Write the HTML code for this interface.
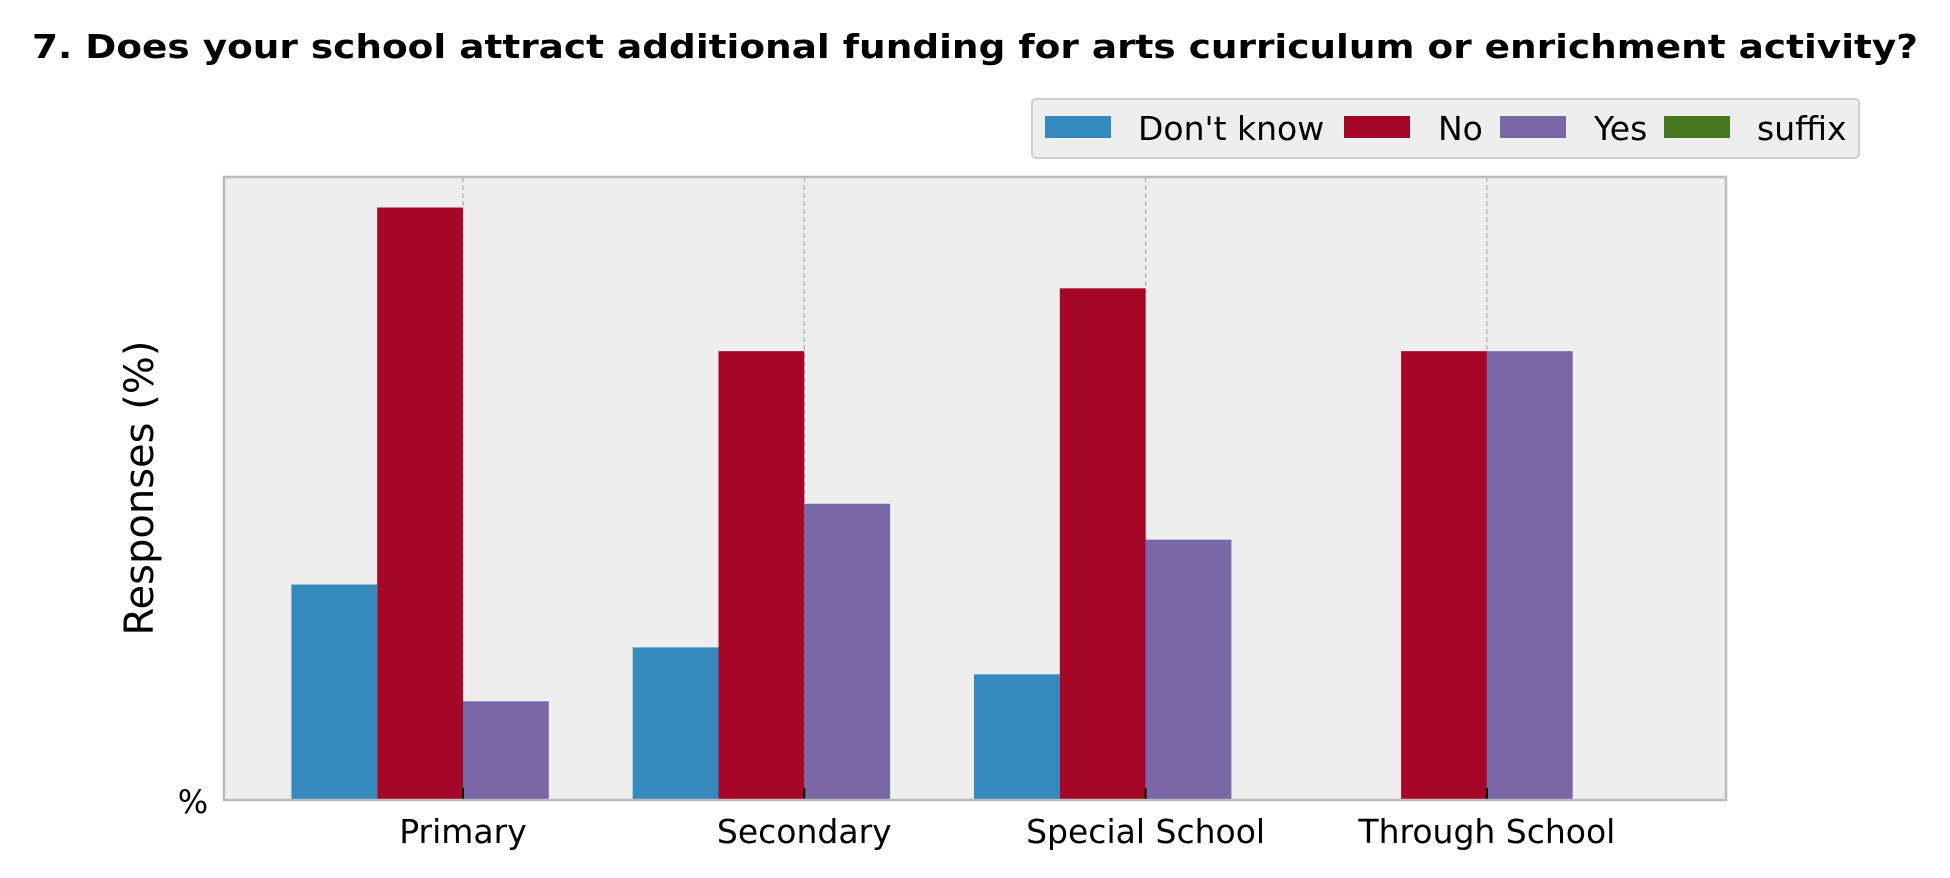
<!DOCTYPE html>
<html><head><meta charset="utf-8"><style>
html,body{margin:0;padding:0;background:#fff;}
svg{display:block;font-family:"DejaVu Sans","Liberation Sans",sans-serif;}
</style></head><body>
<svg id="chart" width="1950" height="878" viewBox="0 0 1950 878">
<text x="975" y="58" text-anchor="middle" font-size="33" font-weight="bold" textLength="1886" lengthAdjust="spacingAndGlyphs">7. Does your school attract additional funding for arts curriculum or enrichment activity?</text>
<rect x="224" y="177" width="1502" height="623" fill="#eeeeee"/>
<g id="grid"></g>
<g id="bars"></g>
<rect x="224" y="177" width="1502" height="623" fill="none" stroke="#bcbcbc" stroke-width="2.5"/>
<g id="xlabels"></g>
<text x="193" y="813" text-anchor="middle" font-size="32">%</text>
<text transform="translate(153,488) rotate(-90)" text-anchor="middle" font-size="40">Responses (%)</text>
<g>
<rect x="1032" y="99" width="827" height="59" rx="4" fill="#eeeeee" stroke="#d0d0d0" stroke-width="2"/>
<g id="legend-items"></g>
</g>
</svg>
<script>
const categories = ["Primary", "Secondary", "Special School", "Through School"];
const seriesNames = ["Don't know", "No", "Yes", "suffix"];
const dontKnow = [24, 17, 14, 0];
const no = [66, 50, 57, 50];
const yes = [11, 33, 29, 50];
const suffix = [0, 0, 0, 0];
const yMax = 69.4;

const colors = ["#348abd", "#a60628", "#7a68a6", "#467821"];
const series = [dontKnow, no, yes, suffix];
const NS = "http://www.w3.org/2000/svg";
const plotLeft = 224, plotRight = 1726, plotTop = 177, plotBottom = 800;
const firstC = 463, stepC = 341.3, bw = 85.8;
function xC(i){ return firstC + i*stepC; }
function yS(v){ return plotBottom - (v/yMax)*(plotBottom-plotTop); }
function mk(tag, attrs, parent){ const e=document.createElementNS(NS,tag); for(const k in attrs) e.setAttribute(k,attrs[k]); parent.appendChild(e); return e; }

const grid=document.getElementById('grid');
const barsG=document.getElementById('bars');
const xl=document.getElementById('xlabels');
categories.forEach((c,i)=>{
  const x=xC(i);
  const g=mk('line',{x1:x,x2:x,y1:plotTop,y2:plotBottom,stroke:'#b0b0b0','stroke-width':1.2,'stroke-dasharray':'5,3'},grid);
  
  
  series.forEach((s,j)=>{
    const v=s[i];
    const y=yS(v);
    const r=mk('rect',{x:x+(j-2)*bw,y:y,width:bw,height:plotBottom-y,fill:colors[j]},barsG);
    
    
  });
  const tk=mk('line',{x1:x,x2:x,y1:plotBottom-12,y2:plotBottom,stroke:'#000','stroke-width':2},barsG);
  
  
  const t=mk('text',{x:x,y:843,'text-anchor':'middle','font-size':33},xl);
  t.textContent=c;
  
  
});
const lg=document.getElementById('legend-items');
const patchX=[1045,1344,1500,1664], textX=[1138,1438,1594,1757];
seriesNames.forEach((n,j)=>{
  const p=mk('rect',{x:patchX[j],y:116,width:66,height:22,fill:colors[j]},lg);
  
  
  const t=mk('text',{x:textX[j],y:140,'font-size':33},lg);
  t.textContent=n;
  
  
});
</script>
</body></html>
